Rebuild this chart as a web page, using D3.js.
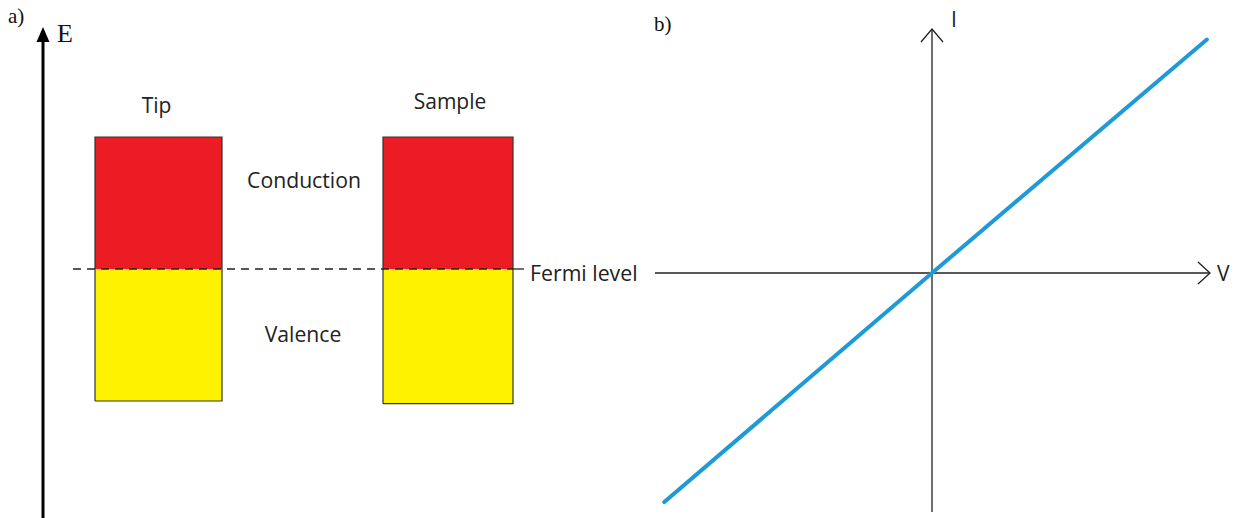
<!DOCTYPE html>
<html>
<head>
<meta charset="utf-8">
<script src="https://cdn.jsdelivr.net/npm/d3@7"></script>
<style>
  html, body { margin: 0; padding: 0; background: #fff; }
  svg { display: block; }
  .lbl { font-family: "Open Sans", sans-serif; fill: #222; }
  .serif { font-family: "Liberation Serif", "DejaVu Serif", serif; fill: #111; }
</style>
</head>
<body>
<svg id="chart"></svg>
<script>
// ---------------------------------------------------------------------------
// Data
// ---------------------------------------------------------------------------

// band diagram (energy relative to the Fermi level, arbitrary units)
const bandNames = ["Tip", "Sample"];
const bandTop = [1.0, 1.0];
const bandBottom = [-1.0, -1.02];
const fermiLevel = 0;

// I-V curve (ohmic, straight line through the origin)
const ivV = [-0.97, 0, 0.996];
const ivI = [-0.83, 0, 0.846];

const CFG = {
  width: 1241,
  height: 518,
  red: "#ec1c24",
  yellow: "#fff200",
  blue: "#1e9ad6"
};

const svg = d3.select("#chart")
  .attr("width", CFG.width)
  .attr("height", CFG.height);

// ---------------------------------------------------------------------------
// Panel a: band diagram
// ---------------------------------------------------------------------------

const bandX = d3.scaleOrdinal().domain(bandNames).range([95, 383]);
const bandW = { Tip: 127, Sample: 130 };
const eY = d3.scaleLinear().domain([-1, 1]).range([401, 137]);

const pa = svg.append("g");

// energy axis
pa.append("line")
  .attr("x1", 43).attr("x2", 43)
  .attr("y1", 40).attr("y2", CFG.height)
  .attr("stroke", "#000").attr("stroke-width", 3);
pa.append("path")
  .attr("d", "M43,27 L36.5,42 L49.5,42 Z")
  .attr("fill", "#000");
pa.append("text").attr("class", "serif")
  .attr("x", 57).attr("y", 42)
  .style("font-size", "26px").text("E");
pa.append("text").attr("class", "serif")
  .attr("x", 8).attr("y", 23)
  .style("font-size", "21px").text("a)");

const bands = pa.selectAll("g.band")
  .data(bandNames.map((n, i) => ({ name: n, top: bandTop[i], bottom: bandBottom[i] })))
  .enter().append("g").attr("class", "band");

bands.append("rect")
  .attr("x", d => bandX(d.name))
  .attr("width", d => bandW[d.name])
  .attr("y", d => eY(d.top))
  .attr("height", d => eY(fermiLevel) - eY(d.top))
  .attr("fill", CFG.red);
bands.append("rect")
  .attr("x", d => bandX(d.name))
  .attr("width", d => bandW[d.name])
  .attr("y", eY(fermiLevel))
  .attr("height", d => eY(d.bottom) - eY(fermiLevel))
  .attr("fill", CFG.yellow);
bands.append("path")
  .attr("d", d => {
    const x0 = bandX(d.name), x1 = x0 + bandW[d.name];
    return `M${x0},${eY(d.bottom)} V${eY(d.top)} H${x1} V${eY(d.bottom)} H${x0}`;
  })
  .attr("fill", "none").attr("stroke", "#333").attr("stroke-width", 1.2);

bands.append("text").attr("class", "lbl")
  .attr("x", d => bandX(d.name) + bandW[d.name] / 2 + (d.name === "Tip" ? -2 : 2))
  .attr("y", d => d.name === "Tip" ? 113 : 109)
  .attr("text-anchor", "middle")
  .style("font-size", "21px")
  .text(d => d.name);

// Fermi level
pa.append("line")
  .attr("x1", 73).attr("x2", 513)
  .attr("y1", eY(fermiLevel)).attr("y2", eY(fermiLevel))
  .attr("stroke", "#222").attr("stroke-width", 1.3)
  .attr("stroke-dasharray", "8,6");
pa.append("line")
  .attr("x1", 513).attr("x2", 524)
  .attr("y1", eY(fermiLevel)).attr("y2", eY(fermiLevel))
  .attr("stroke", "#222").attr("stroke-width", 1.3);
pa.append("text").attr("class", "lbl")
  .attr("x", 530).attr("y", eY(fermiLevel) + 12)
  .style("font-size", "21.3px").text("Fermi level");

pa.append("text").attr("class", "lbl")
  .attr("x", 304).attr("y", 188).attr("text-anchor", "middle")
  .style("font-size", "21.2px").text("Conduction");
pa.append("text").attr("class", "lbl")
  .attr("x", 303).attr("y", 342).attr("text-anchor", "middle")
  .style("font-size", "21.2px").text("Valence");

// ---------------------------------------------------------------------------
// Panel b: I-V curve
// ---------------------------------------------------------------------------

const x = d3.scaleLinear().domain([-1, 1]).range([656, 1208]);
const y = d3.scaleLinear().domain([-1, 1]).range([549, -3]);

const pb = svg.append("g");

pb.append("line")
  .attr("x1", x(0)).attr("x2", x(0))
  .attr("y1", 29).attr("y2", 512)
  .attr("stroke", "#222").attr("stroke-width", 1.3);
pb.append("line")
  .attr("x1", 655).attr("x2", 1210)
  .attr("y1", y(0)).attr("y2", y(0))
  .attr("stroke", "#222").attr("stroke-width", 1.3);
pb.append("path")
  .attr("d", `M${x(0) - 11},42 L${x(0)},29 L${x(0) + 11},42`)
  .attr("fill", "none").attr("stroke", "#222").attr("stroke-width", 1.3);
pb.append("path")
  .attr("d", `M1198,${y(0) - 11} L1210,${y(0)} L1198,${y(0) + 11}`)
  .attr("fill", "none").attr("stroke", "#222").attr("stroke-width", 1.3);

pb.append("text").attr("class", "lbl")
  .attr("x", 951).attr("y", 27).style("font-size", "21px").text("I");
pb.append("text").attr("class", "lbl")
  .attr("x", 1217).attr("y", 281).style("font-size", "21px").text("V");
pb.append("text").attr("class", "serif")
  .attr("x", 654).attr("y", 31).style("font-size", "21px").text("b)");

const line = d3.line().x(d => x(d[0])).y(d => y(d[1]));
pb.append("path")
  .datum(ivV.map((v, i) => [v, ivI[i]]))
  .attr("d", line)
  .attr("fill", "none")
  .attr("stroke", CFG.blue)
  .attr("stroke-width", 4)
  .attr("stroke-linecap", "round");
</script>
</body>
</html>
